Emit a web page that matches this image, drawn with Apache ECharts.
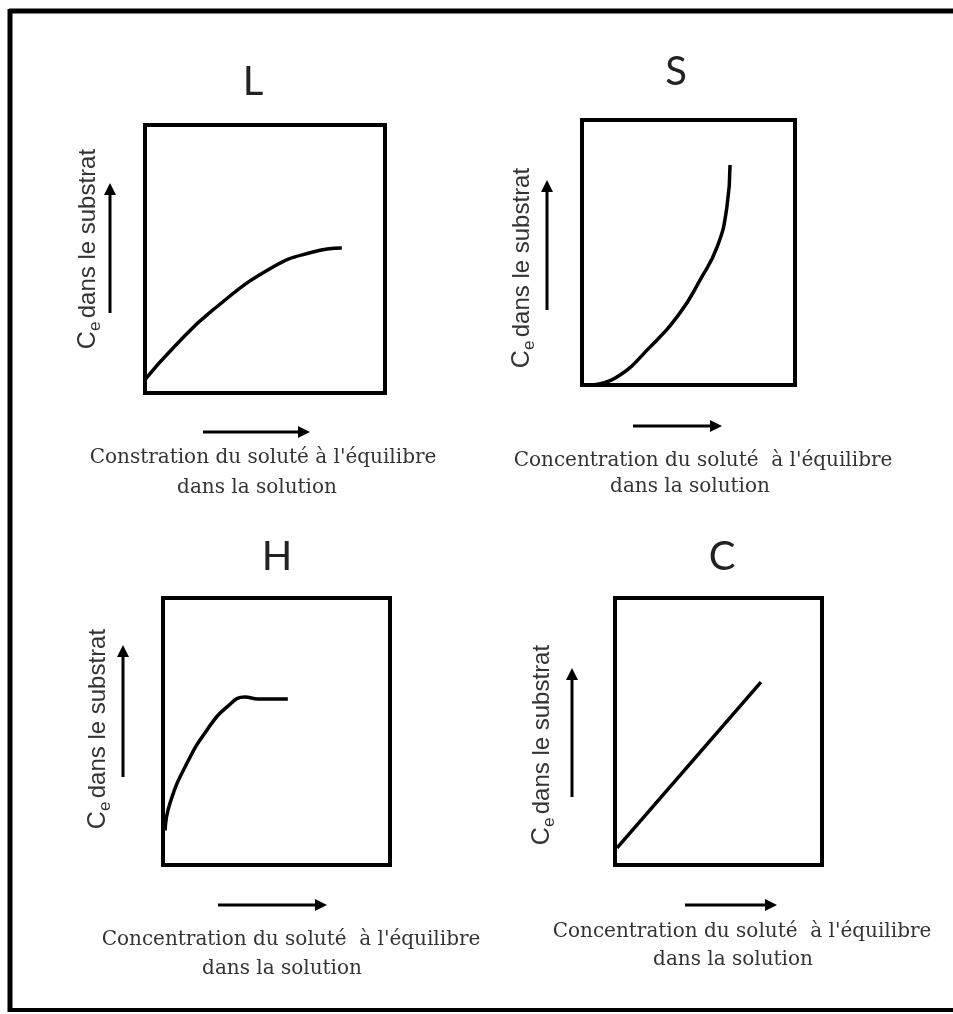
<!DOCTYPE html>
<html>
<head>
<meta charset="utf-8">
<script src="https://cdn.jsdelivr.net/npm/echarts@6/dist/echarts.min.js"></script>
<style>
  html, body { margin: 0; padding: 0; background: #fff; }
  #chart { width: 953px; height: 1014px; }
</style>
</head>
<body>
<div id="chart"></div>
<script>
// panel names
var panelNames = ['L', 'S', 'H', 'C'];

// curve points [x, y] in 0-100 units
var dataL = [[0, 5], [11.7, 16.8], [28.3, 31], [53.3, 47], [70, 52.6], [82, 54.1]];
var dataS = [[4.7, 0], [16.4, 3], [31.9, 14.3], [46, 27.2], [55.4, 39.6], [63.4, 52], [68, 67], [69.5, 83]];
var dataH = [[0.9, 13], [3.1, 23.2], [10.6, 38.2], [19.4, 50.6], [28.2, 59.2], [36.1, 62.9], [42, 62.2], [55, 62.2]];
var dataC = [[1, 6.4], [70.5, 68.5]];

// texts
var yLabel = 'dans le substrat';
var xLabel1 = ["Constration du soluté à l'équilibre", "Concentration du soluté  à l'équilibre", "Concentration du soluté  à l'équilibre", "Concentration du soluté  à l'équilibre"];
var xLabel2 = 'dans la solution';

var chart = echarts.init(document.getElementById('chart'));

// grid boxes (pixels)
var boxes = [
  { left: 145, top: 125, width: 240, height: 268 },
  { left: 582, top: 120, width: 213, height: 265 },
  { left: 163, top: 598, width: 227, height: 267 },
  { left: 615, top: 598, width: 207, height: 267 }
];
var titlePos = [[253, 82], [676, 72], [277, 557], [722, 557]];
var yLabelPos = [[88, 249], [522, 268], [98, 729], [542, 745]];
var yArrow = [[110, 313, 183], [547, 310, 180], [123, 777, 645], [572, 797, 668]];
var xArrow = [[203, 310, 432], [633, 722, 426], [218, 327, 905], [685, 777, 905]];
var xText1 = [[263, 458], [703, 461], [291, 940], [742, 932]];
var xText2 = [[257, 488], [690, 487], [282, 969], [733, 960]];

var graphics = [];
// outer frame
graphics.push({ type: 'line', shape: { x1: 9, y1: 11, x2: 953, y2: 11 }, style: { stroke: '#000', lineWidth: 5 } });
graphics.push({ type: 'line', shape: { x1: 10, y1: 9, x2: 10, y2: 1012 }, style: { stroke: '#000', lineWidth: 5 } });
graphics.push({ type: 'line', shape: { x1: 8, y1: 1010, x2: 953, y2: 1010 }, style: { stroke: '#000', lineWidth: 4 } });

function arrowV(x, y1, y2) {
  graphics.push({ type: 'line', shape: { x1: x, y1: y1, x2: x, y2: y2 + 10 }, style: { stroke: '#000', lineWidth: 3 } });
  graphics.push({ type: 'polygon', shape: { points: [[x - 6, y2 + 12], [x + 6, y2 + 12], [x, y2]] }, style: { fill: '#000' } });
}
function arrowH(x1, x2, y) {
  graphics.push({ type: 'line', shape: { x1: x1, y1: y, x2: x2 - 10, y2: y }, style: { stroke: '#000', lineWidth: 3 } });
  graphics.push({ type: 'polygon', shape: { points: [[x2 - 12, y - 6], [x2 - 12, y + 6], [x2, y]] }, style: { fill: '#000' } });
}

var grids = [], xAxes = [], yAxes = [], series = [];
var allData = [dataL, dataS, dataH, dataC];

for (var i = 0; i < 4; i++) {
  grids.push({
    show: true,
    left: boxes[i].left, top: boxes[i].top,
    width: boxes[i].width, height: boxes[i].height,
    borderColor: '#000', borderWidth: 4,
    backgroundColor: 'transparent'
  });
  xAxes.push({ type: 'value', gridIndex: i, min: 0, max: 100, show: false });
  yAxes.push({ type: 'value', gridIndex: i, min: 0, max: 100, show: false });
  series.push({
    type: 'line',
    xAxisIndex: i, yAxisIndex: i,
    data: allData[i],
    smooth: i === 3 ? false : 0.5,
    symbol: 'none',
    clip: false,
    lineStyle: { color: '#000', width: 3.5 }
  });

  // panel letter
  graphics.push({
    type: 'text', x: titlePos[i][0], y: titlePos[i][1],
    style: { text: panelNames[i], font: '40px Lato', fill: '#222', align: 'center', verticalAlign: 'middle' }
  });
  // y label, rotated
  graphics.push({
    type: 'text', x: yLabelPos[i][0], y: yLabelPos[i][1], rotation: Math.PI / 2,
    style: {
      text: '{c|C}{e|e} {t|' + yLabel + '}',
      align: 'center', verticalAlign: 'middle',
      rich: {
        c: { font: '25px "Liberation Sans"', fill: '#333', verticalAlign: 'middle', lineHeight: 32 },
        e: { font: '17px "Liberation Sans"', fill: '#333', verticalAlign: 'bottom', lineHeight: 32 },
        t: { font: '24px "Liberation Sans"', fill: '#333', verticalAlign: 'middle', lineHeight: 32 }
      }
    }
  });
  arrowV(yArrow[i][0], yArrow[i][1], yArrow[i][2]);
  arrowH(xArrow[i][0], xArrow[i][1], xArrow[i][2]);
  graphics.push({
    type: 'text', x: xText1[i][0], y: xText1[i][1],
    style: { text: xLabel1[i], font: '20px "DejaVu Serif"', fill: '#333', align: 'center', verticalAlign: 'middle' }
  });
  graphics.push({
    type: 'text', x: xText2[i][0], y: xText2[i][1],
    style: { text: xLabel2, font: '20px "DejaVu Serif"', fill: '#333', align: 'center', verticalAlign: 'middle' }
  });
}

var option = {
  backgroundColor: '#fff',
  animation: false,
  grid: grids,
  xAxis: xAxes,
  yAxis: yAxes,
  series: series,
  graphic: { elements: graphics }
};
chart.setOption(option);
</script>
</body>
</html>
